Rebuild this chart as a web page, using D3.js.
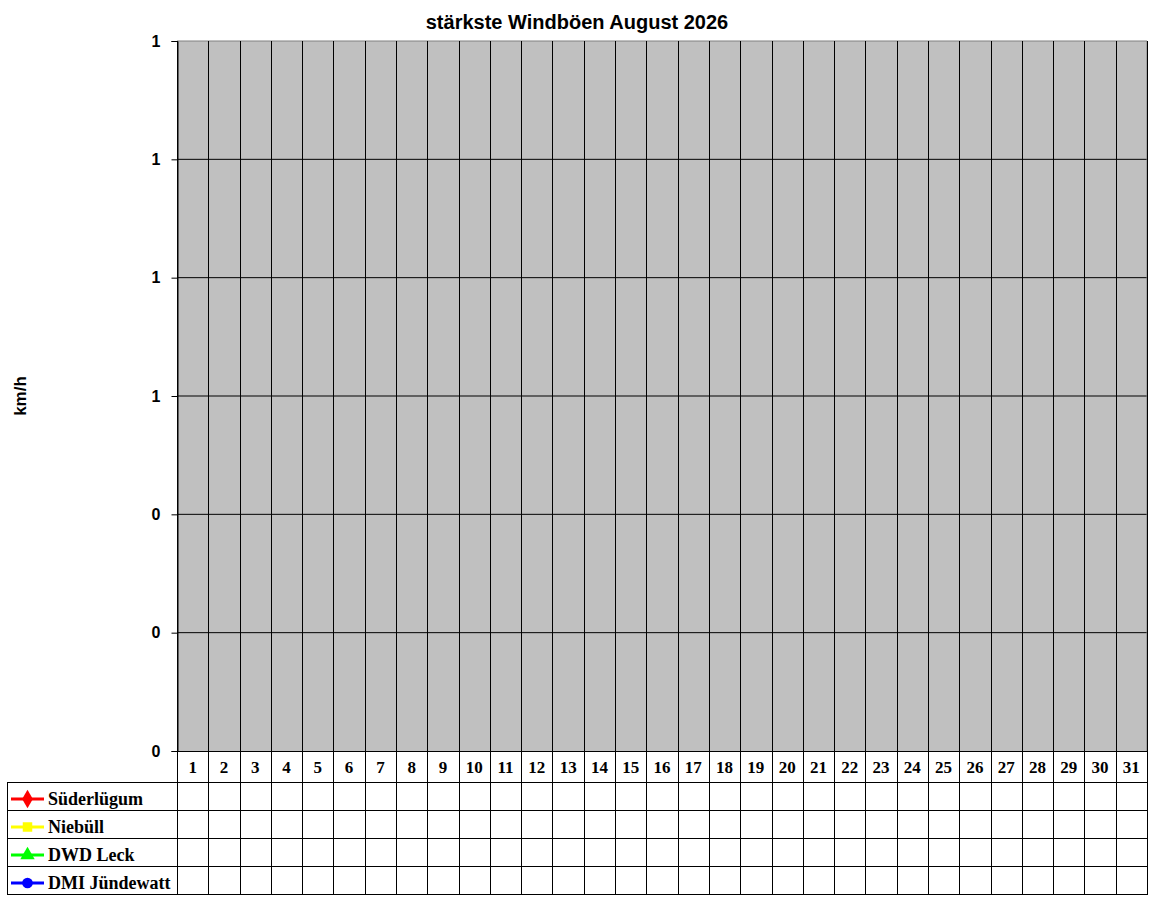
<!DOCTYPE html>
<html>
<head>
<meta charset="utf-8">
<script src="https://cdn.jsdelivr.net/npm/d3@7"></script>
<style>
  body { margin: 0; background: #fff; }
  svg { display: block; }
</style>
</head>
<body>
<div id="chart"></div>
<script>
// Tage im August
const days = [1, 2, 3, 4, 5, 6, 7, 8, 9, 10, 11, 12, 13, 14, 15, 16,
              17, 18, 19, 20, 21, 22, 23, 24, 25, 26, 27, 28, 29, 30, 31];

// Stationen (noch keine Werte für den Monat)
const stations = ["Süderlügum", "Niebüll", "DWD Leck", "DMI Jündewatt"];
const stationColors = ["#ff0000", "#ffff00", "#00ff00", "#0000ff"];
const stationSymbols = [d3.symbolDiamond, d3.symbolSquare, d3.symbolTriangle, d3.symbolCircle];

const sudValues  = [null, null, null, null, null, null, null, null, null, null, null, null, null, null, null, null,
                    null, null, null, null, null, null, null, null, null, null, null, null, null, null, null];
const niebValues = [null, null, null, null, null, null, null, null, null, null, null, null, null, null, null, null,
                    null, null, null, null, null, null, null, null, null, null, null, null, null, null, null];
const leckValues = [null, null, null, null, null, null, null, null, null, null, null, null, null, null, null, null,
                    null, null, null, null, null, null, null, null, null, null, null, null, null, null, null];
const dmiValues  = [null, null, null, null, null, null, null, null, null, null, null, null, null, null, null, null,
                    null, null, null, null, null, null, null, null, null, null, null, null, null, null, null];

// y-Achse (Excel zeigt 0,2-Schritte ohne Nachkommastellen)
const yTicks = [0, 0.2, 0.4, 0.6, 0.8, 1.0, 1.2];

const series = [sudValues, niebValues, leckValues, dmiValues];

const width = 1152;
const height = 900;
const plot = { left: 177, right: 1147, top: 41, bottom: 751 };
const table = { left: 7, headerBottom: 782, rowH: 28 };

const svg = d3.select("#chart")
    .append("svg")
    .attr("width", width)
    .attr("height", height);

const x = d3.scaleBand()
    .domain(days)
    .range([plot.left, plot.right]);

const y = d3.scaleLinear()
    .domain([0, 1.2])
    .range([plot.bottom, plot.top]);

// Plotfläche
svg.append("rect")
    .attr("x", plot.left)
    .attr("y", plot.top)
    .attr("width", plot.right - plot.left)
    .attr("height", plot.bottom - plot.top)
    .attr("fill", "#c0c0c0");

// horizontale Gitterlinien
svg.selectAll("line.hgrid")
    .data(yTicks.filter(d => d > 0 && d < 1.2))
    .enter()
    .append("line")
    .attr("class", "hgrid")
    .attr("x1", plot.left)
    .attr("x2", plot.right)
    .attr("y1", d => y(d))
    .attr("y2", d => y(d))
    .attr("stroke", "#000")
    .attr("stroke-width", 1);

// Rahmen oben / rechts grau
svg.append("line")
    .attr("x1", plot.left).attr("x2", plot.right)
    .attr("y1", plot.top).attr("y2", plot.top)
    .attr("stroke", "#808080");
svg.append("line")
    .attr("x1", plot.right).attr("x2", plot.right)
    .attr("y1", plot.top).attr("y2", plot.bottom)
    .attr("stroke", "#808080");

// vertikale Linien: Plot + Tabelle
const tableBottom = table.headerBottom + stations.length * table.rowH;
const colEdges = days.map(d => x(d)).concat([plot.right]);
svg.selectAll("line.vgrid")
    .data(colEdges)
    .enter()
    .append("line")
    .attr("class", "vgrid")
    .attr("x1", d => Math.round(d) + 0.5)
    .attr("x2", d => Math.round(d) + 0.5)
    .attr("y1", plot.top)
    .attr("y2", tableBottom)
    .attr("stroke", "#000");

// y-Achse
const yAxis = svg.append("g")
    .attr("transform", `translate(${plot.left + 0.5},0)`)
    .call(d3.axisLeft(y).tickValues(yTicks).tickFormat(d3.format(".0f")).tickSize(6).tickPadding(11));
yAxis.select(".domain").attr("stroke", "#000");
yAxis.selectAll(".tick line").attr("stroke", "#000");
yAxis.selectAll("text")
    .attr("font-family", "Arial, 'Liberation Sans', sans-serif")
    .attr("font-weight", "bold")
    .attr("font-size", "16px")
    .attr("fill", "#000");

// x-Achse (unten)
svg.append("line")
    .attr("x1", plot.left).attr("x2", plot.right)
    .attr("y1", plot.bottom + 0.5).attr("y2", plot.bottom + 0.5)
    .attr("stroke", "#000");

// Linien der Stationen
const line = d3.line()
    .defined(d => d != null)
    .x((d, i) => x(days[i]) + x.bandwidth() / 2)
    .y(d => y(d));

series.forEach((vals, s) => {
    svg.append("path")
        .datum(vals)
        .attr("fill", "none")
        .attr("stroke", stationColors[s])
        .attr("stroke-width", 3)
        .attr("d", line);
    svg.selectAll(null)
        .data(vals.map((v, i) => ({ v, i })).filter(d => d.v != null))
        .enter()
        .append("path")
        .attr("d", d3.symbol().type(stationSymbols[s]).size(90))
        .attr("transform", d => `translate(${x(days[d.i]) + x.bandwidth() / 2},${y(d.v)})`)
        .attr("fill", stationColors[s]);
});

// Datentabelle: Kopfzeile mit Tagen
svg.selectAll("text.day")
    .data(days)
    .enter()
    .append("text")
    .attr("class", "day")
    .attr("x", d => x(d) + x.bandwidth() / 2)
    .attr("y", plot.bottom + 22)
    .attr("text-anchor", "middle")
    .attr("font-family", "'Times New Roman', 'Liberation Serif', serif")
    .attr("font-weight", "bold")
    .attr("font-size", "17px")
    .text(d => d);

// horizontale Tabellenlinien
const rowLines = [table.headerBottom];
stations.forEach((s, i) => rowLines.push(table.headerBottom + (i + 1) * table.rowH));
svg.selectAll("line.row")
    .data(rowLines)
    .enter()
    .append("line")
    .attr("class", "row")
    .attr("x1", table.left)
    .attr("x2", plot.right + 1)
    .attr("y1", d => d + 0.5)
    .attr("y2", d => d + 0.5)
    .attr("stroke", "#000");

svg.append("line")
    .attr("x1", table.left + 0.5).attr("x2", table.left + 0.5)
    .attr("y1", table.headerBottom).attr("y2", tableBottom + 1)
    .attr("stroke", "#000");

// Werte in der Tabelle
series.forEach((vals, s) => {
    svg.selectAll(null)
        .data(vals.map((v, i) => ({ v, i })).filter(d => d.v != null))
        .enter()
        .append("text")
        .attr("x", d => x(days[d.i]) + x.bandwidth() / 2)
        .attr("y", table.headerBottom + s * table.rowH + 20)
        .attr("text-anchor", "middle")
        .attr("font-family", "'Times New Roman', 'Liberation Serif', serif")
        .attr("font-size", "14px")
        .text(d => d.v);
});

// Legende in der Tabelle
const legend = svg.selectAll("g.legend")
    .data(stations)
    .enter()
    .append("g")
    .attr("class", "legend")
    .attr("transform", (d, i) => `translate(0,${table.headerBottom + i * table.rowH + table.rowH / 2 + 3})`);

legend.append("line")
    .attr("x1", 11).attr("x2", 44)
    .attr("y1", 0).attr("y2", 0)
    .attr("stroke", (d, i) => stationColors[i])
    .attr("stroke-width", 3);

legend.append("path")
    .attr("d", (d, i) => d3.symbol().type(stationSymbols[i]).size(i === 0 ? 100 : 90)())
    .attr("transform", "translate(27.5,0)")
    .attr("fill", (d, i) => stationColors[i]);

legend.append("text")
    .attr("x", 48)
    .attr("y", 6)
    .attr("font-family", "'Times New Roman', 'Liberation Serif', serif")
    .attr("font-weight", "bold")
    .attr("font-size", "18px")
    .attr("fill", "#000")
    .text(d => d);

// Titel
svg.append("text")
    .attr("x", 577)
    .attr("y", 29)
    .attr("text-anchor", "middle")
    .attr("font-family", "Arial, 'Liberation Sans', sans-serif")
    .attr("font-weight", "bold")
    .attr("font-size", "20px")
    .text("stärkste Windböen August 2026");

// y-Achsenbeschriftung
svg.append("text")
    .attr("transform", "rotate(-90)")
    .attr("x", -396)
    .attr("y", 26)
    .attr("text-anchor", "middle")
    .attr("font-family", "Arial, 'Liberation Sans', sans-serif")
    .attr("font-weight", "bold")
    .attr("font-size", "17px")
    .text("km/h");
</script>
</body>
</html>
